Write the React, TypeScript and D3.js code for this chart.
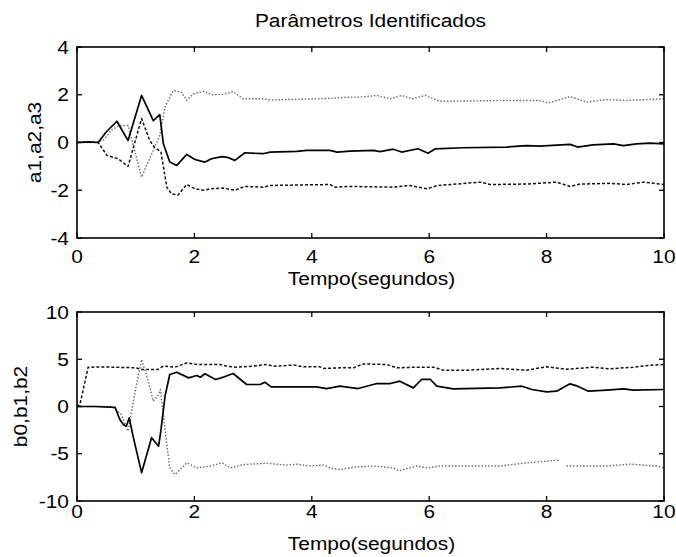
import React from "react";
import * as d3 from "d3";

// ---- data ----
const xTicks = [0, 2, 4, 6, 8, 10];
const aTicks = [-4, -2, 0, 2, 4];
const bTicks = [-10, -5, 0, 5, 10];

const title = "Parâmetros Identificados";
const xLabel = "Tempo(segundos)";
const aLabel = "a1,a2,a3";
const bLabel = "b0,b1,b2";

// top plot: solid (a1)
const a1T = [0, 0.2, 0.36, 0.5, 0.68, 0.87, 1.10, 1.30, 1.41, 1.47, 1.58, 1.70, 1.87, 2.01, 2.18, 2.29, 2.47, 2.56, 2.69, 2.86, 3.17, 3.29, 3.74, 3.91, 4.31, 4.43, 4.65, 5.05, 5.16, 5.39, 5.53, 5.81, 5.98, 6.10, 6.58, 7.32, 7.66, 7.88, 8.40, 8.53, 8.79, 9.14, 9.31, 9.53, 9.76, 10];
const a1V = [0, 0.03, 0, 0.45, 0.89, 0.08, 1.97, 0.92, 1.17, -0.04, -0.82, -0.96, -0.50, -0.71, -0.82, -0.68, -0.59, -0.62, -0.75, -0.43, -0.47, -0.40, -0.37, -0.33, -0.33, -0.40, -0.36, -0.33, -0.38, -0.28, -0.40, -0.26, -0.45, -0.27, -0.22, -0.19, -0.13, -0.15, -0.08, -0.19, -0.10, -0.06, -0.13, -0.06, -0.03, -0.06];
// top plot: dashed (a2)
const a2T = [0, 0.2, 0.36, 0.51, 0.70, 0.87, 1.10, 1.24, 1.32, 1.43, 1.53, 1.61, 1.72, 1.87, 2.01, 2.16, 2.27, 2.49, 2.69, 2.86, 3.17, 3.29, 4.31, 4.40, 4.65, 5.39, 5.67, 5.96, 6.14, 6.36, 6.87, 7.04, 7.66, 8.17, 8.40, 8.57, 9.08, 9.37, 9.65, 10];
const a2V = [0, 0.03, 0, -0.54, -0.68, -1.0, 1.0, 0.08, -0.2, -0.4, -1.87, -2.15, -2.2, -1.76, -1.94, -2.0, -1.94, -1.91, -2.0, -1.84, -1.87, -1.80, -1.76, -1.87, -1.84, -1.87, -1.80, -1.94, -1.80, -1.76, -1.66, -1.76, -1.74, -1.66, -1.84, -1.74, -1.71, -1.76, -1.66, -1.76];
// top plot: dotted (a3)
const a3T = [0, 0.3, 0.45, 0.60, 0.72, 0.87, 1.10, 1.25, 1.41, 1.50, 1.64, 1.78, 1.87, 1.98, 2.16, 2.29, 2.49, 2.66, 2.83, 3.17, 3.29, 4.14, 4.65, 4.82, 5.11, 5.34, 5.53, 5.71, 5.93, 6.18, 6.41, 7.32, 7.88, 8.03, 8.23, 8.40, 8.68, 9.02, 9.37, 10];
const a3V = [0, 0, 0.1, 0.55, 0.71, 0.71, -1.45, -0.6, 0.29, 1.5, 2.18, 2.1, 1.76, 2.04, 2.15, 2.0, 2.02, 2.13, 1.83, 1.83, 1.78, 1.83, 1.90, 1.90, 1.97, 1.83, 1.97, 1.83, 1.97, 1.73, 1.73, 1.76, 1.76, 1.66, 1.80, 1.92, 1.69, 1.80, 1.76, 1.83];

// bottom plot: dashed (b0)
const b0T = [0, 0.05, 0.19, 0.5, 0.99, 1.10, 1.38, 1.47, 1.67, 1.87, 2.04, 2.44, 2.55, 2.72, 3.0, 3.23, 3.35, 3.69, 3.86, 4.14, 4.2, 4.48, 4.71, 4.88, 5.28, 5.45, 5.79, 6.08, 6.24, 6.64, 7.2, 7.66, 8.0, 8.34, 8.79, 9.08, 9.48, 9.76, 10];
const b0V = [0, 0.2, 4.16, 4.18, 4.1, 3.92, 3.92, 4.27, 4.16, 4.62, 4.45, 4.45, 4.27, 4.16, 4.27, 4.45, 4.27, 4.38, 4.2, 4.2, 4.03, 4.09, 4.09, 4.51, 4.44, 4.09, 4.16, 4.16, 3.84, 3.84, 4.02, 3.84, 4.20, 3.94, 4.16, 3.99, 4.16, 4.37, 4.44];
// bottom plot: solid (b1)
const b1T = [0, 0.3, 0.65, 0.73, 0.79, 0.84, 0.89, 0.95, 1.10, 1.27, 1.39, 1.43, 1.50, 1.58, 1.70, 1.90, 2.04, 2.10, 2.18, 2.36, 2.51, 2.66, 2.89, 3.12, 3.20, 3.31, 4.08, 4.25, 4.48, 4.79, 5.11, 5.34, 5.50, 5.73, 5.87, 6.02, 6.13, 6.41, 7.2, 7.58, 7.75, 8.0, 8.17, 8.40, 8.53, 8.71, 9.02, 9.31, 9.48, 10];
const b1V = [0, 0, -0.1, -1.37, -1.9, -2.1, -1.2, -3.0, -7.0, -3.3, -4.2, -2.5, 1.1, 3.39, 3.63, 3.03, 3.28, 3.1, 3.46, 2.86, 3.14, 3.49, 2.33, 2.33, 2.57, 2.08, 2.08, 1.9, 2.15, 1.9, 2.43, 2.43, 2.68, 1.97, 2.86, 2.86, 2.15, 1.87, 1.97, 2.15, 1.8, 1.55, 1.62, 2.40, 2.15, 1.62, 1.73, 1.87, 1.73, 1.80];
// bottom plot: dotted (b2), null = gap
const b2T = [0, 0.3, 0.6, 0.75, 0.87, 0.99, 1.10, 1.19, 1.30, 1.39, 1.42, 1.50, 1.58, 1.67, 1.87, 2.04, 2.27, 2.47, 2.61, 2.84, 3.23, 3.57, 3.74, 3.97, 4.2, 4.31, 4.48, 4.76, 5.05, 5.39, 5.48, 5.79, 5.96, 6.19, 6.64, 7.2, 7.66, 8.17, 8.21, 8.27, 8.34, 9.02, 9.43, 9.88, 10];
const b2V = [0, 0, 0, -0.8, -2.6, 1.6, 4.97, 3.2, 0.56, 1.27, 1.8, -2.43, -6.5, -7.2, -5.96, -6.5, -6.3, -5.96, -6.5, -6.14, -6.0, -6.2, -6.1, -6.3, -6.2, -6.5, -6.67, -6.4, -6.3, -6.5, -6.8, -6.3, -6.5, -6.3, -6.3, -6.3, -5.96, -5.7, -5.68, null, -6.3, -6.3, -6.1, -6.3, -6.5];

const FONT = "'Liberation Sans', Arial, Helvetica, sans-serif";
const FS = 19;
const SX = 1.1;

type Series = { t: number[]; v: (number | null)[]; style: "solid" | "dashed" | "dotted" };

const styleOf = (s: Series["style"]) => {
  if (s === "solid") return { stroke: "#000", strokeWidth: 1.7, dash: undefined as string | undefined };
  if (s === "dashed") return { stroke: "#111", strokeWidth: 1.5, dash: "3,2" };
  return { stroke: "#6a6a6a", strokeWidth: 1.4, dash: "1.5,1.8" };
};

function Panel(props: {
  top: number; bottom: number; left: number; right: number;
  yDomain: [number, number]; yTicks: number[]; series: Series[];
  yLabel: string; yLabelX: number; xTickY: number; xLabelY: number;
}) {
  const { top, bottom, left, right, yDomain, yTicks, series, yLabel, yLabelX, xTickY, xLabelY } = props;
  const x = d3.scaleLinear().domain([0, 10]).range([left, right]);
  const y = d3.scaleLinear().domain(yDomain).range([bottom, top]);
  const tl = 5;
  return (
    <g>
      {series.map((s, i) => {
        const pts = s.t.map((t, k) => [t, s.v[k]] as [number, number | null]);
        const line = d3.line<[number, number | null]>()
          .defined((d) => d[1] !== null)
          .x((d) => x(d[0]))
          .y((d) => y(d[1] as number));
        const st = styleOf(s.style);
        return (
          <path key={i} d={line(pts) || ""} fill="none" stroke={st.stroke}
            strokeWidth={st.strokeWidth} strokeDasharray={st.dash}
            strokeLinejoin="round" />
        );
      })}
      <rect x={left} y={top} width={right - left} height={bottom - top}
        fill="none" stroke="#000" strokeWidth={1.6} />
      {xTicks.map((t) => (
        <g key={"xt" + t}>
          <line x1={x(t)} x2={x(t)} y1={bottom} y2={bottom - tl} stroke="#000" strokeWidth={1.3} />
          <line x1={x(t)} x2={x(t)} y1={top} y2={top + tl} stroke="#000" strokeWidth={1.3} />
          <text transform={`translate(${x(t)},${xTickY}) scale(${SX},1)`} textAnchor="middle"
            fontFamily={FONT} fontSize={FS}>{t}</text>
        </g>
      ))}
      {yTicks.map((t) => (
        <g key={"yt" + t}>
          <line x1={left} x2={left + tl} y1={y(t)} y2={y(t)} stroke="#000" strokeWidth={1.3} />
          <line x1={right} x2={right - tl} y1={y(t)} y2={y(t)} stroke="#000" strokeWidth={1.3} />
          <text transform={`translate(${left - 8},${y(t) + 6.5}) scale(${SX},1)`} textAnchor="end"
            fontFamily={FONT} fontSize={FS}>{t}</text>
        </g>
      ))}
      <text transform={`translate(${yLabelX},${(top + bottom) / 2}) rotate(-90) scale(${SX},1)`}
        textAnchor="middle" fontFamily={FONT} fontSize={FS}>{yLabel}</text>
      <text transform={`translate(${(left + right) / 2 + 1},${xLabelY}) scale(${SX},1)`}
        textAnchor="middle" fontFamily={FONT} fontSize={FS}>{xLabel}</text>
    </g>
  );
}

export default function App() {
  const left = 77, right = 664;
  return (
    <svg width={676} height={557} style={{ position: "absolute", left: 0, top: 0, background: "#fff" }}>
      <rect x={0} y={0} width={676} height={557} fill="#fff" />
      <text transform={`translate(${(left + right) / 2},27) scale(${SX},1)`} textAnchor="middle"
        fontFamily={FONT} fontSize={FS}>{title}</text>
      <Panel top={47} bottom={238} left={left} right={right} yDomain={[-4, 4]} yTicks={aTicks}
        series={[
          { t: a3T, v: a3V, style: "dotted" },
          { t: a2T, v: a2V, style: "dashed" },
          { t: a1T, v: a1V, style: "solid" },
        ]}
        yLabel={aLabel} yLabelX={41} xTickY={263} xLabelY={285} />
      <Panel top={312} bottom={501} left={left} right={right} yDomain={[-10, 10]} yTicks={bTicks}
        series={[
          { t: b2T, v: b2V, style: "dotted" },
          { t: b0T, v: b0V, style: "dashed" },
          { t: b1T, v: b1V, style: "solid" },
        ]}
        yLabel={bLabel} yLabelX={27} xTickY={518} xLabelY={550} />
    </svg>
  );
}
